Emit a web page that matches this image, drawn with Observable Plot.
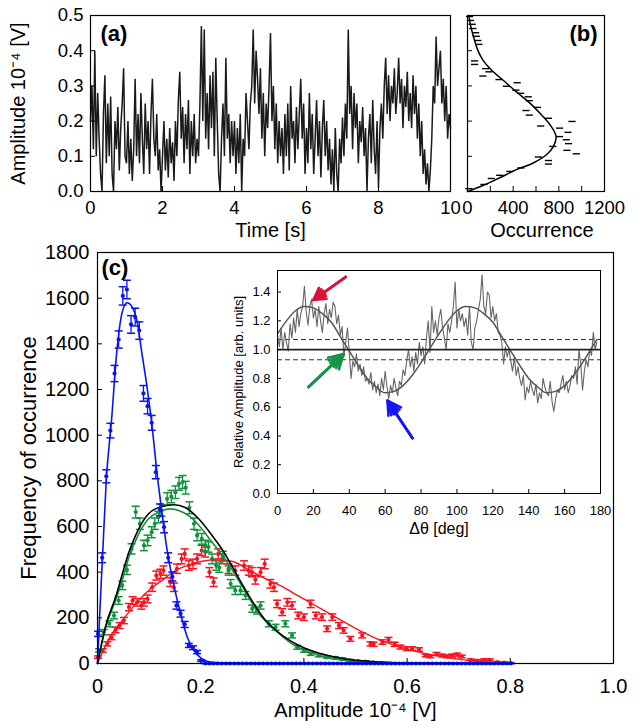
<!DOCTYPE html>
<html><head><meta charset="utf-8">
<script src="https://cdn.jsdelivr.net/npm/d3@7"></script>
<script src="https://cdn.jsdelivr.net/npm/@observablehq/plot@0.6"></script>
<style>
body{margin:0;background:#fff;}
#fig{position:relative;width:643px;height:728px;background:#fff;overflow:hidden;}
#fig > div{position:absolute;}
</style></head>
<body>
<div id="fig">
  <div id="pa" style="left:0;top:0"></div>
  <div id="pb" style="left:460px;top:0"></div>
  <div id="pc" style="left:0;top:240px"></div>
  <div id="pi" style="left:220px;top:255px"></div>
</div>
<script>
// ---------- Panel (a): amplitude time trace (sampled every 0.04 s) ----------
const traceStep = 0.04;
const traceAmp = [
0.20,0.30,0.12,0.40,0.10,0.28,0.15,0.05,0.00,0.22,0.33,0.08,0.25,0.10,0.27,0.05,0.00,0.20,0.12,0.24,0.06,0.18,0.25,0.35,0.10,
0.08,0.20,0.05,0.15,0.03,0.12,0.32,0.10,0.22,0.08,0.28,0.15,0.05,0.25,0.12,0.20,0.05,0.22,0.32,0.15,0.10,0.22,0.06,0.12,0.00,
0.10,0.20,0.06,0.15,0.04,0.18,0.08,0.14,0.03,0.20,0.10,0.26,0.34,0.15,0.24,0.08,0.22,0.12,0.26,0.05,0.20,0.10,0.22,0.08,0.15,
0.10,0.25,0.47,0.20,0.46,0.15,0.28,0.12,0.33,0.18,0.34,0.10,0.38,0.20,0.05,0.00,0.15,0.25,0.10,0.38,0.15,0.22,0.08,0.20,0.10,
0.20,0.05,0.18,0.08,0.22,0.00,0.15,0.10,0.28,0.20,0.12,0.25,0.30,0.46,0.25,0.40,0.32,0.22,0.35,0.15,0.28,0.10,0.25,0.18,0.30,
0.45,0.20,0.30,0.12,0.25,0.08,0.20,0.10,0.18,0.05,0.22,0.10,0.25,0.06,0.30,0.15,0.20,0.08,0.24,0.12,0.22,0.32,0.15,0.25,0.05,
0.18,0.08,0.28,0.12,0.22,0.05,0.15,0.26,0.10,0.20,0.04,0.18,0.26,0.10,0.20,0.06,0.15,0.02,0.12,0.00,0.18,0.05,0.00,0.15,0.08,
0.21,0.10,0.25,0.15,0.46,0.22,0.30,0.12,0.28,0.18,0.25,0.08,0.20,0.14,0.24,0.10,0.18,0.00,0.15,0.22,0.08,0.26,0.12,0.05,0.20,
0.01,0.18,0.25,0.15,0.30,0.38,0.22,0.33,0.20,0.30,0.25,0.35,0.22,0.28,0.38,0.25,0.32,0.18,0.30,0.24,0.34,0.20,0.28,0.18,0.33,
0.22,0.30,0.15,0.25,0.10,0.20,0.05,0.12,0.02,0.08,0.00,0.06,0.15,0.30,0.25,0.44,0.30,0.35,0.40,0.25,0.32,0.20,0.30,0.15,0.22,
0.18];
const timeTicks = [0,2,4,6,8,10];
const ampTicks = [0,0.1,0.2,0.3,0.4,0.5];

// ---------- Panel (b): amplitude histogram ----------
const histCount = [18,26,41,47,71,77,91,100,62,62,159,188,135,276,435,341,424,465,532,541,612,512,541,709,915,641,806,880,806,865,885,747,871,953,621,709,709,468,371,282,209,144,12];
const histAmp = [0.497,0.486,0.475,0.463,0.451,0.441,0.429,0.418,0.371,0.361,0.349,0.340,0.328,0.318,0.309,0.299,0.288,0.279,0.269,0.258,0.239,0.230,0.217,0.208,0.199,0.186,0.180,0.168,0.156,0.147,0.136,0.128,0.117,0.107,0.098,0.088,0.078,0.067,0.057,0.046,0.037,0.020,0.008];
const histFitAmp = [0,0.017,0.039,0.062,0.081,0.105,0.128,0.156,0.189,0.222,0.251,0.283,0.316,0.345,0.373,0.401,0.439,0.476,0.5];
const histFitCount = [0,135,282,429,576,694,753,776,724,635,547,429,312,209,135,91,53,24,12];
const occLabelTicks = [0,400,800,1200];
const occMinorTicks = [200,400,600,800,1000];

// ---------- Panel (c): frequency of occurrence ----------
const blueX = [0.001,0.009,0.017,0.025,0.033,0.041,0.049,0.057,0.065,0.073,0.081,0.089,0.097,0.105,0.113,0.121,0.129,0.137,0.145,0.153,0.161,0.169,0.177,0.185,0.193,0.201];
const blueY = [130,463,820,1020,1270,1419,1610,1638,1485,1517,1458,1183,1127,1054,838,673,597,463,381,254,218,171,79,69,50,13];
const blueZeroX = [0.209,0.217,0.225,0.233,0.241,0.249,0.257,0.265,0.273,0.281,0.289,0.297,0.305,0.313,0.321,0.329,0.337,0.345,0.353,0.361,0.369,0.377,0.385,0.393,0.401,0.409,0.417,0.425,0.433,0.441,0.449,0.457,0.465,0.473,0.481,0.489,0.497,0.505,0.513,0.521,0.529,0.537,0.545,0.553,0.561,0.569,0.577,0.585,0.593,0.601,0.609,0.617,0.625,0.633,0.641,0.649,0.657,0.665,0.673,0.681,0.689,0.697,0.705,0.713,0.721,0.729,0.737,0.745,0.753,0.761,0.769,0.777,0.785,0.793,0.801];
const greenX = [0.003,0.012,0.023,0.032,0.041,0.048,0.057,0.066,0.074,0.082,0.090,0.097,0.105,0.111,0.118,0.124,0.135,0.143,0.151,0.158,0.165,0.171,0.178,0.187,0.193,0.202,0.209,0.215,0.222,0.230,0.236,0.243,0.254,0.258,0.267,0.277,0.287,0.300,0.309,0.316,0.332,0.345,0.364,0.377,0.387,0.400,0.413,0.429,0.445,0.460,0.475,0.490,0.505,0.520,0.535,0.550];
const greenY = [57,137,174,210,276,342,410,502,663,612,517,539,575,612,641,670,721,731,750,787,795,770,682,612,561,546,517,510,458,429,420,470,407,349,320,320,298,240,232,254,174,159,174,123,71,57,42,35,28,25,20,14,10,8,5,3];
const redX = [0.001,0.010,0.019,0.027,0.035,0.043,0.051,0.061,0.068,0.077,0.085,0.090,0.097,0.106,0.114,0.122,0.128,0.141,0.148,0.154,0.163,0.169,0.177,0.185,0.193,0.202,0.209,0.217,0.225,0.234,0.242,0.254,0.267,0.284,0.293,0.299,0.306,0.316,0.324,0.335,0.342,0.348,0.358,0.368,0.377,0.389,0.400,0.413,0.423,0.435,0.445,0.455,0.468,0.477,0.490,0.513,0.529,0.535,0.552,0.564,0.576,0.587,0.599,0.610,0.623,0.636,0.645,0.657,0.668,0.677,0.687,0.697,0.706,0.723,0.736,0.749,0.760,0.775,0.788,0.800];
const redY = [28,57,86,115,147,166,188,247,276,268,254,268,283,334,385,393,407,356,334,415,458,480,429,436,458,495,488,400,356,480,458,415,407,429,407,400,367,400,436,349,334,261,225,268,254,210,203,261,210,203,152,203,166,145,108,123,86,84,94,104,84,72,65,65,61,35,31,42,35,31,35,39,31,16,13,16,16,6,4,3];
const blueFitX = [0,0.005,0.010,0.017,0.027,0.038,0.048,0.057,0.067,0.077,0.086,0.096,0.106,0.115,0.125,0.135,0.148,0.161,0.174,0.187,0.200,0.212,0.230,0.260,0.300,0.800];
const blueFitY = [0,250,480,802,1060,1380,1540,1580,1562,1495,1360,1210,1035,840,660,495,342,218,115,57,25,10,4,1,0,0];
const greenFitX = [0,0.016,0.035,0.048,0.061,0.080,0.099,0.119,0.141,0.160,0.180,0.200,0.222,0.246,0.280,0.313,0.345,0.377,0.410,0.442,0.474,0.520,0.580,0.650,0.800];
const greenFitY = [0,160,276,364,466,568,634,663,677,668,642,596,531,462,340,218,145,86,50,28,16,7,3,1,0];
const blackFitX = [0,0.016,0.035,0.061,0.080,0.099,0.125,0.148,0.171,0.196,0.222,0.245,0.261,0.293,0.326,0.358,0.390,0.422,0.455,0.481,0.530,0.600,0.700,0.800];
const blackFitY = [0,166,290,488,590,656,688,695,682,634,561,488,425,298,188,123,79,50,31,20,9,3,1,0];
const redFitX = [0,0.022,0.048,0.074,0.099,0.125,0.151,0.177,0.203,0.229,0.260,0.293,0.325,0.358,0.390,0.422,0.452,0.481,0.516,0.550,0.581,0.613,0.645,0.680,0.710,0.745,0.775,0.800];
const redFitY = [0,108,188,261,320,364,407,432,448,454,448,410,372,337,295,254,215,178,135,100,76,55,39,25,16,8,3,1];
const freqTicks = [0,200,400,600,800,1000,1200,1400,1600,1800];
const ampCTicks = [0,0.2,0.4,0.6,0.8,1.0];

// ---------- Inset: relative amplitude vs angle (1 deg steps) ----------
const relAmp = [
1.10,1.02,1.15,1.00,1.12,1.05,0.99,1.18,1.08,1.22,
1.12,1.28,1.16,1.25,1.30,1.44,1.26,1.17,1.30,1.35,
1.22,1.28,1.16,1.30,1.20,1.12,1.25,1.32,1.18,1.28,
1.22,1.33,1.30,1.18,1.24,1.10,1.16,0.95,1.05,1.15,
0.98,0.80,0.92,0.88,0.97,0.85,0.90,0.82,0.88,0.78,
0.80,0.76,0.84,0.72,0.78,0.70,0.76,0.68,0.80,0.72,
0.85,0.74,0.66,0.75,0.70,0.80,0.73,0.68,0.78,0.75,
0.86,0.82,0.92,1.00,0.88,0.95,0.85,0.98,0.90,1.05,
0.96,1.02,0.90,1.08,1.20,0.98,1.30,1.12,1.20,1.10,
1.22,1.28,1.15,1.08,1.00,1.18,1.12,1.20,1.30,1.47,
1.15,1.28,1.20,1.25,1.16,1.22,1.10,1.30,1.05,1.00,
1.15,1.20,1.28,1.35,1.52,1.30,1.25,1.40,1.38,1.22,
1.30,1.20,1.25,1.12,1.10,1.05,0.90,1.02,0.95,1.00,
0.92,0.85,0.95,0.82,0.88,0.80,0.75,0.82,0.65,0.74,
0.70,0.78,0.72,0.68,0.76,0.63,0.70,0.66,0.80,0.74,
0.70,0.68,0.78,0.64,0.57,0.66,0.72,0.70,0.76,0.82,
0.72,0.78,0.70,0.75,0.82,0.80,0.88,0.76,1.00,0.90,
0.72,0.85,0.93,0.88,1.00,0.96,1.12,1.00,1.05];
const relFitDeg = [0,5,10,15,20,25,30,35,40,45,50,55,60,65,70,75,80,85,90,95,100,105,110,115,120,125,130,135,140,145,150,155,160,165,170,175,178];
const relFitVal = [1.11,1.20,1.27,1.30,1.29,1.25,1.19,1.09,0.99,0.89,0.80,0.74,0.70,0.71,0.75,0.82,0.91,1.01,1.11,1.20,1.27,1.30,1.29,1.25,1.19,1.09,0.99,0.89,0.80,0.74,0.70,0.71,0.75,0.82,0.91,1.01,1.07];
const refLevels = [1.0];
const bandLevels = [1.07, 0.93];
const arrowData = [
  {x1: 38, y1: 1.505, x2: 20, y2: 1.345, c: "#d8133a"},
  {x1: 17.3, y1: 0.74, x2: 36.8, y2: 0.97, c: "#159447"},
  {x1: 75.2, y1: 0.385, x2: 61.3, y2: 0.645, c: "#1515f5"}
];
const degTicks = [0,20,40,60,80,100,120,140,160,180];
const relTicks = [0,0.2,0.4,0.6,0.8,1.0,1.2,1.4];

// ---------- helpers ----------
const FONT = '"Liberation Sans", Arial, Helvetica, sans-serif';
const baseStyle = (fs) => ({fontFamily: FONT, fontSize: fs + "px", background: "transparent", overflow: "visible", color: "black"});
const hbar = {draw(ctx, size) { const r = Math.sqrt(size / Math.PI); ctx.moveTo(-r, 0); ctx.lineTo(r, 0); }};
const inTicksX = (vals, innerH, len = 5) => Plot.ruleX(vals, {x: d => d, insetTop: innerH - len, stroke: "black", strokeWidth: 1});
const inTicksY = (vals, innerW, len = 5) => Plot.ruleY(vals, {y: d => d, insetRight: innerW - len, stroke: "black", strokeWidth: 1});

// ---------- Panel (a) ----------
{
  const W = 460, H = 240, mL = 90, mR = 10, mT = 15, mB = 49;
  const data = traceAmp.map((v, i) => ({t: i * traceStep, v}));
  const p = Plot.plot({
    width: W, height: H, marginLeft: mL, marginRight: mR, marginTop: mT, marginBottom: mB,
    style: baseStyle(18.5),
    x: {domain: [0, 10]}, y: {domain: [0, 0.5]},
    marks: [
      Plot.line(data, {x: "t", y: "v", stroke: "#1a1a1a", strokeWidth: 1.5, strokeLinejoin: "miter"}),
      inTicksX([2,4,6,8], H - mT - mB),
      inTicksY([0.1,0.2,0.3,0.4], W - mL - mR),
      Plot.axisX(timeTicks, {tickSize: 0, tickPadding: 9, label: null, tickFormat: d => String(d)}),
      Plot.axisY(ampTicks, {tickSize: 0, tickPadding: 7, label: null, tickFormat: d => d.toFixed(1)}),
      Plot.frame({stroke: "black", strokeWidth: 1.2}),
      Plot.text(["Time [s]"], {text: d => d, frameAnchor: "bottom", dy: 39, fontSize: 20, textAnchor: "middle", lineAnchor: "middle"}),
      Plot.text(["Amplitude 10⁻⁴ [V]"], {text: d => d, frameAnchor: "left", dx: -72, rotate: -90, fontSize: 20, textAnchor: "middle", lineAnchor: "middle"}),
      Plot.text(["(a)"], {text: d => d, frameAnchor: "top-left", dx: 10, dy: 18, fontSize: 22, fontWeight: "bold", textAnchor: "start", lineAnchor: "middle"})
    ]
  });
  document.getElementById("pa").append(p);
}

// ---------- Panel (b) ----------
{
  const W = 183, H = 240, mL = 7, mR = 39, mT = 15, mB = 49;
  const hist = histCount.map((c, i) => ({c, a: histAmp[i]}));
  const fit = histFitCount.map((c, i) => ({c, a: histFitAmp[i]}));
  const p = Plot.plot({
    width: W, height: H, marginLeft: mL, marginRight: mR, marginTop: mT, marginBottom: mB,
    style: baseStyle(18.5),
    x: {domain: [0, 1200]}, y: {domain: [0, 0.5]},
    marks: [
      Plot.dot(hist, {x: "c", y: "a", symbol: hbar, r: 3.6, stroke: "black", fill: "none", strokeWidth: 1.4}),
      Plot.line(fit, {x: "c", y: "a", curve: "catmull-rom", stroke: "black", strokeWidth: 1.5}),
      inTicksX(occMinorTicks, H - mT - mB),
      inTicksY([0.1,0.2,0.3,0.4], W - mL - mR),
      Plot.axisX(occLabelTicks, {tickSize: 0, tickPadding: 9, label: null, tickFormat: d => String(d)}),
      Plot.axisY([], {tickSize: 0, label: null}),
      Plot.frame({stroke: "black", strokeWidth: 1.2}),
      Plot.text(["Occurrence"], {text: d => d, frameAnchor: "bottom", dx: 6, dy: 39, fontSize: 20, textAnchor: "middle", lineAnchor: "middle"}),
      Plot.text(["(b)"], {text: d => d, frameAnchor: "top-right", dx: -7, dy: 18, fontSize: 22, fontWeight: "bold", textAnchor: "end", lineAnchor: "middle"})
    ]
  });
  document.getElementById("pb").append(p);
}

// ---------- Panel (c) ----------
function series(xs, ys, color) {
  const d = xs.map((x, i) => ({x, y: ys[i], e: Math.sqrt(ys[i])}));  // Poisson counting error
  return [
    Plot.ruleX(d, {x: "x", y1: r => r.y - r.e, y2: r => r.y + r.e, stroke: color, strokeWidth: 1.3}),
    Plot.dot(d, {x: "x", y: r => r.y - r.e, symbol: hbar, r: 4, stroke: color, fill: "none", strokeWidth: 1.5}),
    Plot.dot(d, {x: "x", y: r => r.y + r.e, symbol: hbar, r: 4, stroke: color, fill: "none", strokeWidth: 1.5}),
    Plot.dot(d, {x: "x", y: "y", r: 2.1, fill: color, stroke: "none"})
  ];
}
const fitLine = (xs, ys, color, w) => Plot.line(xs.map((x, i) => ({x, y: ys[i]})), {x: "x", y: "y", stroke: color, strokeWidth: w, curve: "monotone-x"});
{
  const W = 643, H = 488, mL = 97, mR = 30, mT = 12, mB = 65;
  const BLUE = "#0a14f0", GREEN = "#14913f", RED = "#f5141e";
  const p = Plot.plot({
    width: W, height: H, marginLeft: mL, marginRight: mR, marginTop: mT, marginBottom: mB,
    style: baseStyle(20),
    x: {domain: [0, 1]}, y: {domain: [0, 1800]},
    marks: [
      inTicksX([0.2,0.4,0.6,0.8], H - mT - mB),
      inTicksY([200,400,600,800,1000,1200,1400,1600], W - mL - mR),
      Plot.axisX(ampCTicks, {tickSize: 0, tickPadding: 15, label: null, tickFormat: d => d === 0 ? "0" : d.toFixed(1)}),
      Plot.axisY(freqTicks, {tickSize: 0, tickPadding: 8, label: null, tickFormat: d => String(d)}),
      ...series(redX, redY, RED),
      ...series(greenX, greenY, GREEN),
      fitLine(redFitX, redFitY, RED, 1.4),
      fitLine(greenFitX, greenFitY, GREEN, 1.6),
      fitLine(blackFitX, blackFitY, "black", 1.6),
      ...series(blueX, blueY, BLUE),
      ...series(blueZeroX, blueZeroX.map(() => 0), BLUE),
      fitLine(blueFitX, blueFitY, BLUE, 1.6),
      Plot.frame({stroke: "black", strokeWidth: 1.2}),
      Plot.text(["Amplitude 10⁻⁴ [V]"], {text: d => d, frameAnchor: "bottom", dy: 47, fontSize: 20, textAnchor: "middle", lineAnchor: "middle"}),
      Plot.text(["Frequency of occurrence"], {text: d => d, frameAnchor: "left", dx: -69, rotate: -90, fontSize: 22, textAnchor: "middle", lineAnchor: "middle"}),
      Plot.text(["(c)"], {text: d => d, frameAnchor: "top-left", dx: 4, dy: 15, fontSize: 22, fontWeight: "bold", textAnchor: "start", lineAnchor: "middle"})
    ]
  });
  document.getElementById("pc").append(p);
}

// ---------- Inset ----------
{
  const W = 400, H = 285, mL = 57, mR = 20, mT = 15, mB = 47;
  const noisy = relAmp.map((v, i) => ({deg: i, v}));
  const fit = relFitDeg.map((deg, i) => ({deg, v: relFitVal[i]}));
  const arrowMarks = [60, 38, 18].map(a => Plot.arrow(arrowData, {x1: "x1", y1: "y1", x2: "x2", y2: "y2", stroke: "c", headAngle: a, headLength: 13, strokeWidth: 2.6}));
  const p = Plot.plot({
    width: W, height: H, marginLeft: mL, marginRight: mR, marginTop: mT, marginBottom: mB,
    style: baseStyle(13),
    color: {type: "identity"},
    x: {domain: [0, 180]}, y: {domain: [0, 1.55]},
    marks: [
      Plot.ruleY(bandLevels, {y: d => d, stroke: "#333", strokeWidth: 1.1, strokeDasharray: "5,3"}),
      Plot.line(noisy, {x: "deg", y: "v", stroke: "#666", strokeWidth: 1.1}),
      Plot.line(fit, {x: "deg", y: "v", stroke: "#555", strokeWidth: 1.5, curve: "monotone-x"}),
      Plot.ruleY(refLevels, {y: d => d, stroke: "#222", strokeWidth: 1.6}),
      ...arrowMarks,
      inTicksX([20,40,60,80,100,120,140,160], H - mT - mB, 4),
      inTicksY([0.2,0.4,0.6,0.8,1.0,1.2,1.4], W - mL - mR, 4),
      Plot.axisX(degTicks, {tickSize: 0, tickPadding: 12, label: null, tickFormat: d => String(d)}),
      Plot.axisY(relTicks, {tickSize: 0, tickPadding: 7, label: null, tickFormat: d => d.toFixed(1)}),
      Plot.frame({stroke: "black", strokeWidth: 1}),
      Plot.text(["Δθ [deg]"], {text: d => d, frameAnchor: "bottom", dy: 35, fontSize: 16, textAnchor: "middle", lineAnchor: "middle"}),
      Plot.text(["Relative Amplitude [arb. units]"], {text: d => d, frameAnchor: "left", dx: -39, rotate: -90, fontSize: 13, textAnchor: "middle", lineAnchor: "middle"})
    ]
  });
  document.getElementById("pi").append(p);
}
</script>
</body></html>
